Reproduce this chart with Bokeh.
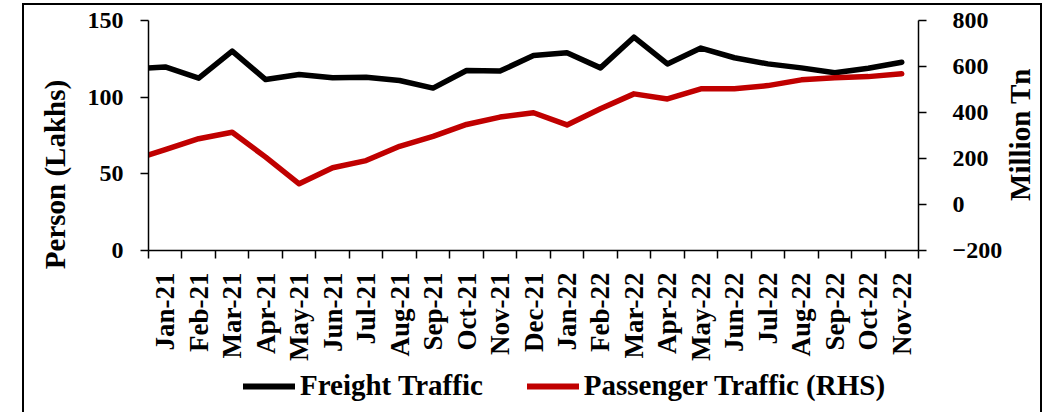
import math
from bokeh.plotting import figure
from bokeh.layouts import column, row
from bokeh.models import (Range1d, LinearAxis, FixedTicker, Legend, LegendItem,
                          Label, ColumnDataSource)
from bokeh.embed import file_html
from bokeh.resources import INLINE

# Data (first entry Dec-20 lies just left of the visible axis range)
months = ["Dec-20", "Jan-21", "Feb-21", "Mar-21", "Apr-21", "May-21", "Jun-21", "Jul-21",
          "Aug-21", "Sep-21", "Oct-21", "Nov-21", "Dec-21", "Jan-22", "Feb-22", "Mar-22",
          "Apr-22", "May-22", "Jun-22", "Jul-22", "Aug-22", "Sep-22", "Oct-22", "Nov-22"]
freight = [118.4, 119.7, 112.4, 130.0, 111.5, 114.8, 112.6, 113.0, 110.9, 105.9, 117.4, 117.0,
           127.2, 128.9, 119.1, 139.1, 121.7, 132.0, 125.7, 121.7, 119.1, 115.9, 118.9, 122.8]
passenger = [191, 239, 286, 314, 206, 90, 160, 191, 253, 296, 348, 380,
             399, 346, 416, 481, 459, 503, 503, 517, 542, 551, 556, 568]
left_ticks = [0, 50, 100, 150]
right_ticks = [-200, 0, 200, 400, 600, 800]

FONT = "Liberation Serif"
RED = "#C00000"

idx = list(range(len(months)))
src = ColumnDataSource(dict(x=idx, freight=freight, passenger=passenger))

def blank(fig):
    fig.outline_line_color = None
    fig.background_fill_color = "white"
    fig.border_fill_color = "white"
    fig.frame_align = False
    return fig

# ---- main chart ----
p = blank(figure(width=925, height=360, x_range=Range1d(0.5, len(months) - 0.5),
                 y_range=Range1d(0, 150), output_backend="svg", toolbar_location=None,
                 min_border_left=68, min_border_right=81, min_border_top=15,
                 min_border_bottom=115))
p.extra_y_ranges = {"right": Range1d(-200, 800)}
p.xgrid.visible = False
p.ygrid.visible = False

def style_axis(ax, size="24px"):
    ax.axis_line_color = "black"
    ax.axis_line_width = 1.5
    ax.major_tick_line_color = "black"
    ax.major_tick_line_width = 1.5
    ax.minor_tick_line_color = None
    ax.major_label_text_font = FONT
    ax.major_label_text_font_style = "bold"
    ax.major_label_text_font_size = size
    ax.major_label_text_color = "black"

xa = p.xaxis[0]
style_axis(xa, "27px")
vis = idx[1:]
xa.ticker = FixedTicker(ticks=vis, minor_ticks=[i - 0.5 for i in vis] + [vis[-1] + 0.5])
xa.major_label_overrides = {i: months[i] for i in vis}
xa.major_tick_out = 0
xa.major_tick_in = 0
xa.minor_tick_line_color = "black"
xa.minor_tick_line_width = 1.5
xa.minor_tick_out = 8
xa.minor_tick_in = 0
xa.major_label_orientation = math.pi / 2
xa.major_label_standoff = 14

ya = p.yaxis[0]
style_axis(ya)
ya.ticker = FixedTicker(ticks=left_ticks)
ya.major_tick_out = 8
ya.major_tick_in = 0
ya.major_label_standoff = 17

ra = LinearAxis(y_range_name="right")
style_axis(ra)
ra.ticker = FixedTicker(ticks=right_ticks)
ra.major_tick_out = 8
ra.major_tick_in = 0
ra.major_label_standoff = 26
p.add_layout(ra, "right")

p.line("x", "freight", source=src, line_color="black", line_width=5.5,
       line_join="round", line_cap="round")
p.line("x", "passenger", source=src, y_range_name="right", line_color=RED,
       line_width=5.5, line_join="round", line_cap="round")

def title_strip(width, text, tx, ty):
    f = blank(figure(width=width, height=360, x_range=Range1d(0, width),
                     y_range=Range1d(0, 360), output_backend="svg",
                     toolbar_location=None, x_axis_location=None,
                     y_axis_location=None, min_border=0))
    f.xgrid.visible = False
    f.ygrid.visible = False
    f.add_layout(Label(x=tx, y=ty, text=text, angle=math.pi / 2,
                       text_align="center", text_baseline="middle", text_font=FONT,
                       text_font_style="bold", text_font_size="29px",
                       text_color="black"))
    return f

# ---- axis title strips ----
tf = title_strip(56, "Person (Lakhs)", 30, 191)
rf = title_strip(35, "Million Tn", 14, 231)

# ---- legend strip ----
lf = blank(figure(width=1016, height=47, x_range=Range1d(0, 1), y_range=Range1d(0, 1),
                  output_backend="svg", toolbar_location=None,
                  x_axis_location=None, y_axis_location=None, min_border=0))
lf.xgrid.visible = False
lf.ygrid.visible = False
# series drawn outside this strip's range: they only supply the legend swatches
g1 = lf.line("x", "freight", source=src, line_color="black", line_width=6, line_cap="round")
g2 = lf.line("x", "passenger", source=src, line_color=RED, line_width=6, line_cap="round")
legend = Legend(items=[LegendItem(label="Freight Traffic", renderers=[g1]),
                       LegendItem(label="Passenger Traffic (RHS)", renderers=[g2])],
                orientation="horizontal", location=(219, 10))
legend.label_text_font = FONT
legend.label_text_font_style = "bold"
legend.label_text_font_size = "29px"
legend.label_text_color = "black"
legend.glyph_width = 52
legend.glyph_height = 30
legend.label_height = 30
legend.label_standoff = 5
legend.spacing = 44
legend.padding = 0
legend.margin = 0
legend.border_line_color = None
legend.background_fill_alpha = 0
lf.add_layout(legend, "center")

layout = column(row(tf, p, rf), lf,
                styles={"margin-left": "24px", "margin-top": "5px",
                        "outline": "2px solid black"})

open("out.html", "w").write(file_html(layout, INLINE))
